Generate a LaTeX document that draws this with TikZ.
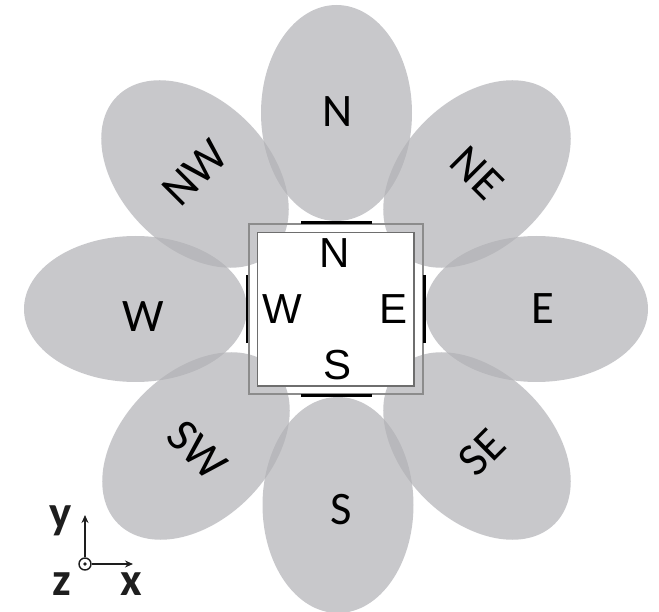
\documentclass[tikz,border=0pt]{standalone}
\usepackage{fontspec}
\usetikzlibrary{shapes.geometric,arrows.meta}
\newfontfamily\lobefont{Carlito}
\newfontfamily\innerfont{Liberation Sans}
\newfontfamily\axisfont{Carlito}
\definecolor{lobegray}{RGB}{178,178,182}
\definecolor{outerline}{RGB}{140,140,140}
\definecolor{innerline}{RGB}{110,110,110}
\definecolor{axiscol}{RGB}{30,30,30}
\tikzset{
  lobe/.style={ellipse, fill=lobegray, fill opacity=0.71, draw=none, inner sep=0pt},
  vlobe/.style={lobe, minimum width=151pt, minimum height=216pt},
  hlobe/.style={lobe, minimum width=223pt, minimum height=146pt},
  dlobe/.style={lobe, minimum width=220pt, minimum height=148pt},
  lobelabel/.style={inner sep=0pt, font=\lobefont\fontsize{46.6}{50}\selectfont, text=black},
  innerlabel/.style={inner sep=0pt, font=\innerfont\fontsize{42}{46}\selectfont, text=black},
  axislabel/.style={inner sep=0pt, anchor=base, font=\axisfont\bfseries\fontsize{47}{50}\selectfont, text=axiscol},
  bar/.style={line width=2.8pt, black},
  axisarrow/.style={line width=1.4pt, axiscol, -{Stealth[length=8pt,width=7pt]}}
}
\begin{document}
\begin{tikzpicture}[x=1pt,y=-1pt]
\useasboundingbox (0,0) rectangle (659,612);
% lobes
\node[vlobe] (lN) at (336.5,113) {};
\node[vlobe] (lS) at (338,505) {};
\node[hlobe] (lW) at (135.5,309) {};
\node[hlobe] (lE) at (536.5,309) {};
\node[dlobe, rotate=-45] (lNW) at (195,174) {};
\node[dlobe, rotate=45] (lNE) at (477,174) {};
\node[dlobe, rotate=45] (lSW) at (196,446) {};
\node[dlobe, rotate=-45] (lSE) at (477,446) {};
% squares
\draw[outerline, line width=1.5pt] (249,224) rectangle (423,394);
\draw[innerline, line width=1.5pt, fill=white] (257.5,232.5) rectangle (414,386);
% bars
\draw[bar] (301,222.5) -- (372,222.5);
\draw[bar] (301,395.5) -- (372,395.5);
\draw[bar] (247,275) -- (247,343);
\draw[bar] (424.5,275) -- (424.5,343);
% inner labels
\node[innerlabel] (iN) at (335,253) {N};
\node[innerlabel] (iW) at (282.5,309) {W};
\node[innerlabel] (iE) at (394,309) {E};
\node[innerlabel] (iS) at (337.5,365) {S};
% lobe labels
\node[lobelabel] (tN) at (338,112) {N};
\node[lobelabel] (tS) at (341.5,510) {S};
\node[lobelabel] (tW) at (143,316.5) {W};
\node[lobelabel] (tE) at (542.5,309) {E};
\node[lobelabel, rotate=45] (tNW) at (195,173) {NW};
\node[lobelabel, rotate=-45] (tNE) at (477,173) {NE};
\node[lobelabel, rotate=-45] (tSW) at (197,450) {SW};
\node[lobelabel, rotate=45] (tSE) at (482,452) {SE};
% axes
\node[circle, draw=axiscol, line width=1.4pt, minimum size=12pt, inner sep=0pt] (org) at (85,564) {};
\fill[axiscol] (org.center) circle (1.8pt);
\coordinate (ytip) at (85,515);
\coordinate (xtip) at (133,564);
\draw[axisarrow] (org.north) -- (ytip);
\draw[axisarrow] (org.east) -- (xtip);
\node[axislabel] (ly) at (61,528) {y};
\node[axislabel] (lz) at (61.5,595) {z};
\node[axislabel] (lx) at (131.5,595) {x};
\end{tikzpicture}
\end{document}
